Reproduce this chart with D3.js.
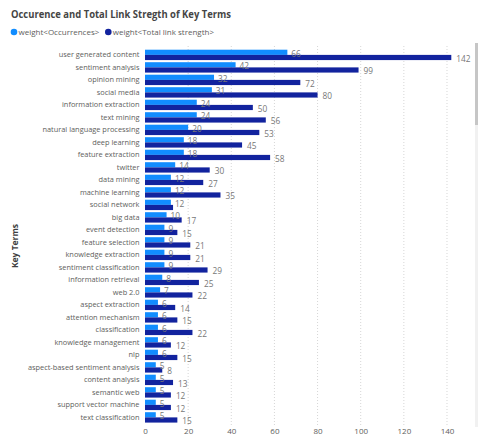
<!DOCTYPE html>
<html><head><meta charset="utf-8">
<script src="https://cdn.jsdelivr.net/npm/d3@7"></script>
<style>
html,body{margin:0;padding:0;background:#fff;overflow:hidden;}
svg{display:block;}
text{font-family:"Open Sans","Noto Sans",sans-serif;}
</style></head>
<body>
<script>
const categories = ["user generated content","sentiment analysis","opinion mining","social media","information extraction","text mining","natural language processing","deep learning","feature extraction","twitter","data mining","machine learning","social network","big data","event detection","feature selection","knowledge extraction","sentiment classification","information retrieval","web 2.0","aspect extraction","attention mechanism","classification","knowledge management","nlp","aspect-based sentiment analysis","content analysis","semantic web","support vector machine","text classification"];
const occurrences = [66,42,32,31,24,24,20,18,18,14,12,12,12,10,9,9,9,9,8,7,6,6,6,6,6,5,5,5,5,5];
const linkStrength = [142,99,72,80,50,56,53,45,58,30,27,35,13,17,15,21,21,29,25,22,14,15,22,12,15,8,13,12,12,15];
const xTicks = [0,20,40,60,80,100,120,140];
const seriesNames = ["weight<Occurrences>","weight<Total link strength>"];
const colors = ["#118DFF","#12239E"];

const W = 478, H = 435;
const svg = d3.select("body").append("svg").attr("width", W).attr("height", H);

const x = d3.scaleLinear().domain([0, 142]).range([145, 451.3]);
const y = d3.scaleBand().domain(categories).range([48.64, 423.64]).paddingInner(0.17).paddingOuter(0.085);
const sub = d3.scaleBand().domain([0,1]).range([0, y.bandwidth()]);

// title
svg.append("text").attr("x", 11).attr("y", 18).attr("font-size", 10.5).attr("font-weight", 700)
  .attr("fill", "#454545").attr("textLength", 220).attr("lengthAdjust","spacingAndGlyphs")
  .text("Occurence and Total Link Stregth of Key Terms");

// legend
const lg = svg.append("g");
const legX = [14, 108.3];
seriesNames.forEach((n,i)=>{
  lg.append("circle").attr("cx", legX[i]).attr("cy", 32).attr("r", 3.3).attr("fill", colors[i]);
  lg.append("text").attr("x", legX[i]+4.5).attr("y", 32).attr("dy","0.35em").attr("font-size", 8)
    .attr("fill", "#605E5C").text(n);
});

// gridlines
svg.append("g").selectAll("line").data(xTicks.slice(1)).join("line")
  .attr("x1", d=>x(d)).attr("x2", d=>x(d)).attr("y1", 46).attr("y2", 427)
  .attr("stroke", "#d6d6d6").attr("stroke-width", 1).attr("stroke-dasharray", "1,2");

// x axis labels
const xAxis = d3.axisBottom(x).tickValues(xTicks).tickSize(0).tickPadding(0);
const xg = svg.append("g").attr("transform", "translate(0,428)").call(xAxis);
xg.select(".domain").remove();
xg.selectAll("text").attr("font-size", 8).attr("fill", "#605E5C").attr("dy","0.71em")
  .style("font-family", '"Open Sans",sans-serif');

// y axis labels
const yAxis = d3.axisLeft(y).tickSize(0).tickPadding(0);
const yg = svg.append("g").attr("transform", "translate(139.5,0)").call(yAxis);
yg.select(".domain").remove();
yg.selectAll("text").attr("font-size", 7.4).attr("fill", "#605E5C")
  .style("font-family", '"Open Sans",sans-serif');

// y title
svg.append("text").attr("transform", "translate(18,246) rotate(-90)").attr("text-anchor","middle")
  .attr("font-size", 8.5).attr("font-weight", 700).attr("fill", "#3f3f3f").text("Key Terms");

// bars
const rows = categories.map((c,i)=>({c, v:[occurrences[i], linkStrength[i]]}));
const gRows = svg.append("g").selectAll("g").data(rows).join("g")
  .attr("transform", d=>`translate(0,${y(d.c)})`);
[0,1].forEach(s=>{
  gRows.append("rect").attr("x", x(0)).attr("y", sub(s)).attr("height", sub.bandwidth())
    .attr("width", d=>x(d.v[s])-x(0)).attr("fill", colors[s]);
});
// labels
gRows.append("text").attr("x", d=>x(d.v[0])+4).attr("y", sub(0)+sub.bandwidth()*0.8)
  .attr("dy","0.35em").attr("font-size", 8.3).attr("fill", "#777").text(d=>d.v[0]);
gRows.filter(d=> (x(d.v[1]) - x(d.v[0])) > 4).append("text").attr("x", d=>x(d.v[1])+5).attr("y", sub(1)+sub.bandwidth()*0.72)
  .attr("dy","0.35em").attr("font-size", 8.3).attr("fill", "#777").text(d=>d.v[1]);

// scrollbar
svg.append("rect").attr("x", 475).attr("y", 43).attr("width", 3).attr("height", 384).attr("fill", "#f1f1f1");
svg.append("rect").attr("x", 475).attr("y", 43).attr("width", 3).attr("height", 82).attr("fill", "#c6c6c6");
</script>
</body></html>
